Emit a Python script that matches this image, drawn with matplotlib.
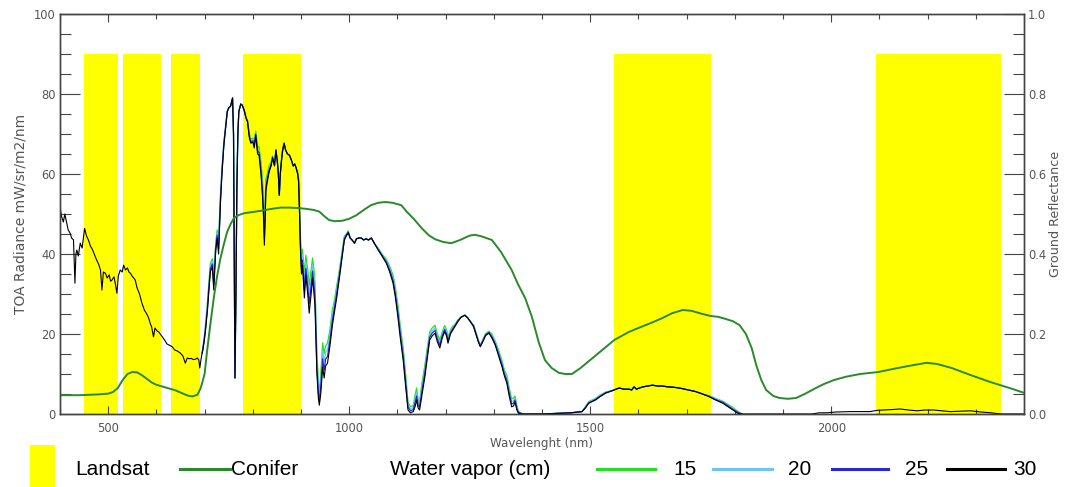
import matplotlib
matplotlib.use("Agg")
import matplotlib.pyplot as plt
from matplotlib.ticker import MultipleLocator, FormatStrFormatter
from matplotlib.patches import Rectangle
from matplotlib.lines import Line2D

# ---------------- data ----------------
# Landsat bands (nm)
band_start = [450, 530, 630, 780, 1550, 2092]
band_end = [520, 610, 690, 900, 1750, 2352]
band_top = 90

# TOA radiance, 30 cm water vapour, visible part
wl_vis = [400, 403, 407, 410, 414, 417, 421, 424, 428, 431,
          433, 435, 438, 442, 446, 451, 455, 459, 463, 467,
          471, 476, 480, 484, 487, 490, 494, 498, 502, 505,
          508, 512, 515, 518, 521, 525, 529, 532, 536, 540,
          543, 546, 550, 553, 556, 560, 565, 570, 575, 580,
          584, 587, 590, 594, 597, 601, 605, 608, 612, 617,
          622, 627, 633, 638, 644, 650, 655, 660, 664, 668,
          672, 677, 681, 685, 688, 690, 693]
rad30_vis = [51.8, 49.5, 48.0, 50.0, 47.7, 46.0, 45.2, 44.0, 43.5, 32.7,
             40.0, 41.0, 39.5, 42.7, 41.5, 46.4, 44.5, 43.5, 42.0, 41.2,
             40.0, 38.5, 37.5, 36.0, 31.0, 35.5, 35.2, 34.0, 34.8, 33.2,
             33.5, 34.3, 32.5, 30.2, 34.5, 36.0, 35.5, 37.2, 36.0, 36.5,
             35.5, 35.2, 34.4, 34.0, 33.5, 31.5, 30.0, 27.7, 26.0, 25.0,
             24.0, 22.7, 21.8, 19.3, 21.5, 20.8, 20.5, 20.0, 19.3, 18.5,
             17.5, 17.2, 16.8, 16.0, 15.7, 15.2, 14.5, 12.7, 14.0, 13.8,
             13.9, 13.6, 13.7, 14.0, 13.5, 11.5, 14.0]

# NIR / SWIR part where the water-vapour series differ
wl_wv = [695, 699, 702, 706, 709, 712, 716, 719, 723, 726,
         729, 733, 736, 740, 744, 747, 750, 754, 758, 760,
         762, 763, 765, 767, 769, 771, 775, 778, 782, 786,
         789, 793, 796, 800, 803, 806, 810, 813, 817, 820,
         822, 824, 826, 827, 830, 834, 838, 841, 845, 848,
         851, 853, 855, 857, 860, 862, 865, 868, 872, 876,
         880, 884, 887, 890, 893, 895, 897, 899, 901, 903,
         905, 907, 910, 914, 917, 921, 924, 927, 929, 933,
         936, 938, 941, 945, 948, 951, 955, 960, 965, 969,
         974, 980, 985, 990, 994, 998, 1002, 1006, 1011, 1015,
         1020, 1025, 1030, 1035, 1040, 1046, 1053, 1060, 1068, 1077,
         1084, 1091, 1096, 1101, 1106, 1112, 1117, 1122, 1127, 1133,
         1137, 1140, 1143, 1146, 1150, 1154, 1157, 1162, 1167, 1172,
         1178, 1183, 1188, 1193, 1198, 1202, 1205, 1210, 1215, 1219,
         1225, 1232, 1240, 1246, 1252, 1258, 1264, 1268, 1272, 1277,
         1283, 1290, 1296, 1303, 1310, 1317, 1322, 1327, 1332, 1337,
         1341, 1344, 1348, 1351, 1360, 1400, 1440, 1460, 1483, 1490,
         1497, 1511, 1520, 1532, 1545, 1560, 1570, 1581, 1586, 1591,
         1596, 1602, 1610, 1620, 1629, 1640, 1650, 1660, 1672, 1685,
         1700, 1719, 1733, 1747, 1760, 1775, 1786, 1796, 1806, 1815]

rad_30_nir = [15.2, 18.0, 21.0, 26.0, 31.0, 35.6, 36.8, 31.0, 40.6, 44.0,
              40.0, 53.0, 60.0, 67.2, 72.0, 75.6, 76.5, 77.0, 79.0, 70.0,
              30.0, 9.0, 30.0, 57.0, 70.0, 75.6, 77.5, 77.2, 76.0, 74.0,
              73.0, 69.0, 67.7, 68.0, 66.5, 69.7, 65.0, 64.7, 60.0, 54.7,
              50.0, 42.2, 50.0, 55.6, 58.0, 60.6, 62.0, 64.0, 62.0, 66.0,
              63.0, 60.0, 54.7, 60.0, 64.0, 66.0, 67.7, 66.0, 65.0, 64.7,
              63.5, 62.0, 62.5, 61.5, 60.0, 58.0, 50.0, 40.6, 35.0, 37.2,
              33.0, 29.0, 34.7, 30.0, 25.2, 30.0, 34.0, 30.0, 27.0, 10.0,
              4.0, 2.2, 5.0, 11.8, 9.0, 12.0, 12.7, 17.0, 22.0, 25.2,
              29.0, 34.3, 39.0, 43.5, 44.5, 45.3, 44.0, 43.5, 42.7, 43.8,
              44.0, 44.0, 43.5, 43.8, 43.5, 44.0, 42.5, 41.0, 39.5, 37.7,
              35.5, 32.7, 29.0, 24.3, 19.0, 13.5, 7.0, 1.0, 0.3, 0.6,
              2.0, 3.5, 1.5, 1.0, 4.0, 7.0, 9.3, 14.0, 18.5, 19.5,
              20.2, 18.0, 16.5, 19.0, 20.6, 19.5, 17.7, 20.0, 21.0, 21.8,
              23.0, 24.2, 24.7, 24.0, 23.0, 21.8, 19.5, 18.0, 16.8, 18.0,
              19.6, 20.2, 19.0, 17.2, 14.5, 11.8, 9.5, 7.7, 4.5, 1.8,
              2.0, 3.0, 1.0, 0.2, 0.0, 0.0, 0.2, 0.3, 0.6, 1.5,
              2.7, 3.5, 4.3, 5.2, 5.8, 6.5, 6.2, 6.2, 6.0, 6.8,
              6.2, 6.5, 6.8, 7.0, 7.2, 7.0, 7.0, 6.8, 6.7, 6.5,
              6.1, 5.6, 5.0, 4.3, 3.5, 2.7, 1.8, 1.0, 0.2, 0.0]

rad_15 = [15.2, 19.0, 22.5, 28.0, 33.0, 37.6, 38.8, 35.0, 42.6, 46.0,
          44.0, 55.0, 61.5, 68.2, 72.5, 75.6, 76.5, 77.0, 79.0, 70.0,
          30.0, 9.0, 30.0, 57.0, 70.0, 75.6, 77.5, 77.2, 76.0, 74.0,
          73.5, 70.0, 68.7, 69.0, 68.0, 70.7, 67.0, 66.7, 63.0, 58.7,
          54.0, 47.2, 54.0, 58.6, 60.0, 62.1, 63.0, 64.5, 62.5, 66.0,
          63.0, 60.0, 54.7, 60.0, 64.0, 66.0, 67.7, 66.0, 65.0, 64.7,
          63.5, 62.0, 62.5, 61.5, 60.5, 59.0, 52.0, 43.6, 39.0, 41.2,
          38.0, 35.0, 39.7, 36.0, 32.2, 36.0, 39.0, 36.0, 33.0, 15.0,
          8.0, 5.2, 10.0, 17.8, 15.0, 17.0, 17.7, 21.0, 26.0, 28.2,
          32.0, 36.3, 40.5, 44.5, 45.0, 45.8, 44.0, 43.5, 42.7, 43.8,
          44.0, 44.0, 43.5, 43.8, 43.5, 44.0, 42.5, 41.5, 40.0, 38.7,
          37.0, 34.7, 31.5, 27.3, 22.0, 16.5, 10.0, 3.0, 1.8, 2.1,
          5.0, 6.5, 3.5, 3.0, 7.0, 10.0, 12.3, 16.5, 20.5, 21.5,
          22.2, 20.0, 18.5, 20.5, 22.1, 21.0, 19.2, 21.0, 22.0, 22.3,
          23.5, 24.2, 24.7, 24.0, 23.0, 22.3, 20.0, 18.5, 17.3, 18.5,
          20.1, 20.7, 20.0, 18.2, 16.0, 13.3, 11.0, 9.7, 6.5, 3.8,
          4.0, 4.5, 2.0, 0.7, 0.0, 0.0, 0.2, 0.3, 0.6, 1.8,
          3.1, 3.9, 4.7, 5.5, 5.8, 6.5, 6.2, 6.2, 6.0, 6.8,
          6.2, 6.5, 6.8, 7.0, 7.2, 7.0, 7.0, 6.8, 6.7, 6.5,
          6.1, 5.6, 5.0, 4.6, 3.9, 3.2, 2.4, 1.6, 0.7, 0.0]

rad_20 = [15.2, 18.7, 22.0, 27.3, 32.3, 36.9, 38.1, 33.7, 41.9, 45.3,
          42.7, 54.3, 61.0, 67.9, 72.3, 75.6, 76.5, 77.0, 79.0, 70.0,
          30.0, 9.0, 30.0, 57.0, 70.0, 75.6, 77.5, 77.2, 76.0, 74.0,
          73.3, 69.7, 68.4, 68.7, 67.5, 70.4, 66.3, 66.0, 62.0, 57.4,
          52.7, 45.5, 52.7, 57.6, 59.3, 61.6, 62.7, 64.3, 62.3, 66.0,
          63.0, 60.0, 54.7, 60.0, 64.0, 66.0, 67.7, 66.0, 65.0, 64.7,
          63.5, 62.0, 62.5, 61.5, 60.3, 58.7, 51.3, 42.6, 37.7, 39.9,
          36.4, 33.0, 38.0, 34.0, 29.9, 34.0, 37.4, 34.0, 31.0, 13.4,
          6.7, 4.2, 8.4, 15.8, 13.0, 15.4, 16.1, 19.7, 24.7, 27.2,
          31.0, 35.6, 40.0, 44.2, 44.8, 45.6, 44.0, 43.5, 42.7, 43.8,
          44.0, 44.0, 43.5, 43.8, 43.5, 44.0, 42.5, 41.3, 39.8, 38.4,
          36.5, 34.0, 30.7, 26.3, 21.0, 15.5, 9.0, 2.3, 1.3, 1.6,
          4.0, 5.5, 2.8, 2.3, 6.0, 9.0, 11.3, 15.7, 19.8, 20.8,
          21.5, 19.3, 17.8, 20.0, 21.6, 20.5, 18.7, 20.7, 21.7, 22.1,
          23.3, 24.2, 24.7, 24.0, 23.0, 22.1, 19.8, 18.3, 17.1, 18.3,
          19.9, 20.5, 19.7, 17.9, 15.5, 12.8, 10.5, 9.0, 5.8, 3.1,
          3.3, 4.0, 1.7, 0.5, 0.0, 0.0, 0.2, 0.3, 0.6, 1.7,
          3.0, 3.8, 4.6, 5.4, 5.8, 6.5, 6.2, 6.2, 6.0, 6.8,
          6.2, 6.5, 6.8, 7.0, 7.2, 7.0, 7.0, 6.8, 6.7, 6.5,
          6.1, 5.6, 5.0, 4.5, 3.8, 3.0, 2.2, 1.4, 0.5, 0.0]

rad_25 = [15.2, 18.3, 21.5, 26.7, 31.7, 36.3, 37.5, 32.3, 41.3, 44.7,
          41.3, 53.7, 60.5, 67.5, 72.2, 75.6, 76.5, 77.0, 79.0, 70.0,
          30.0, 9.0, 30.0, 57.0, 70.0, 75.6, 77.5, 77.2, 76.0, 74.0,
          73.2, 69.3, 68.0, 68.3, 67.0, 70.0, 65.7, 65.4, 61.0, 56.0,
          51.3, 43.9, 51.3, 56.6, 58.7, 61.1, 62.3, 64.2, 62.2, 66.0,
          63.0, 60.0, 54.7, 60.0, 64.0, 66.0, 67.7, 66.0, 65.0, 64.7,
          63.5, 62.0, 62.5, 61.5, 60.2, 58.3, 50.7, 41.6, 36.3, 38.5,
          34.7, 31.0, 36.4, 32.0, 27.5, 32.0, 35.7, 32.0, 29.0, 11.7,
          5.3, 3.2, 6.7, 13.8, 11.0, 13.7, 14.4, 18.3, 23.3, 26.2,
          30.0, 35.0, 39.5, 43.8, 44.7, 45.5, 44.0, 43.5, 42.7, 43.8,
          44.0, 44.0, 43.5, 43.8, 43.5, 44.0, 42.5, 41.2, 39.7, 38.0,
          36.0, 33.4, 29.8, 25.3, 20.0, 14.5, 8.0, 1.7, 0.8, 1.1,
          3.0, 4.5, 2.2, 1.7, 5.0, 8.0, 10.3, 14.8, 19.2, 20.2,
          20.9, 18.7, 17.2, 19.5, 21.1, 20.0, 18.2, 20.3, 21.3, 22.0,
          23.2, 24.2, 24.7, 24.0, 23.0, 22.0, 19.7, 18.2, 17.0, 18.2,
          19.8, 20.4, 19.3, 17.5, 15.0, 12.3, 10.0, 8.4, 5.2, 2.5,
          2.7, 3.5, 1.3, 0.4, 0.0, 0.0, 0.2, 0.3, 0.6, 1.6,
          2.8, 3.6, 4.4, 5.3, 5.8, 6.5, 6.2, 6.2, 6.0, 6.8,
          6.2, 6.5, 6.8, 7.0, 7.2, 7.0, 7.0, 6.8, 6.7, 6.5,
          6.1, 5.6, 5.0, 4.4, 3.6, 2.9, 2.0, 1.2, 0.4, 0.0]

# tail of the 30 cm curve (SWIR-2)
wl_tail = [1830, 1900, 1960, 1975, 1990, 2010, 2039, 2060, 2080, 2095,
           2108, 2125, 2143, 2160, 2178, 2195, 2212, 2230, 2247, 2270,
           2289, 2310, 2331, 2345, 2358, 2400]
rad30_tail = [0.0, 0.0, 0.0, 0.3, 0.3, 0.5, 0.6, 0.6, 0.6, 0.9,
              1.0, 1.1, 1.25, 1.0, 0.8, 1.0, 1.0, 0.8, 0.6, 0.7,
              0.8, 0.5, 0.3, 0.1, 0.0, 0.0]

wl_30 = wl_vis + wl_wv + wl_tail
rad_30 = rad30_vis + rad_30_nir + rad30_tail

# Conifer ground reflectance
wl_conifer = [400, 420, 440, 460, 480, 500, 510, 520, 530, 540,
              550, 560, 570, 580, 590, 600, 620, 640, 655, 665,
              675, 685, 692, 700, 705, 712, 719, 726, 733, 740,
              747, 754, 761, 770, 782, 800, 817, 840, 858, 875,
              893, 910, 927, 938, 948, 958, 970, 985, 1000, 1015,
              1030, 1045, 1060, 1075, 1090, 1108, 1120, 1136, 1150, 1165,
              1178, 1195, 1212, 1230, 1250, 1261, 1275, 1296, 1315, 1337,
              1350, 1365, 1379, 1393, 1406, 1420, 1435, 1448, 1462, 1480,
              1500, 1525, 1550, 1580, 1600, 1625, 1650, 1670, 1692, 1710,
              1733, 1750, 1765, 1780, 1796, 1810, 1823, 1835, 1845, 1855,
              1865, 1880, 1893, 1910, 1927, 1945, 1965, 1985, 2006, 2030,
              2060, 2098, 2130, 2160, 2198, 2220, 2250, 2290, 2330, 2370,
              2400]
refl_conifer = [.047, .047, .047, .048, .049, .051, .055, .065, .085, .100,
                .105, .104, .097, .088, .079, .073, .066, .059, .051, .046,
                .044, .048, .065, .10, .156, .225, .29, .345, .39, .425,
                .456, .475, .49, .497, .502, .505, .508, .513, .516, .516,
                .515, .513, .51, .506, .495, .485, .482, .483, .488, .497,
                .510, .522, .528, .530, .528, .522, .505, .485, .465, .447,
                .437, .430, .427, .435, .446, .448, .444, .435, .405, .36,
                .325, .29, .243, .18, .135, .115, .103, .10, .10, .115,
                .135, .16, .185, .205, .215, .227, .24, .252, .26, .258,
                .25, .245, .243, .238, .232, .222, .20, .165, .12, .085,
                .06, .045, .04, .038, .04, .05, .063, .075, .085, .093,
                .10, .105, .113, .12, .128, .125, .115, .097, .08, .065,
                .053]

wv_labels = ["15", "20", "25", "30"]
wv_colors = ["#22e022", "#6cc4f0", "#2828d8", "#000000"]
conifer_color = "#2a8a2a"
band_color = "#ffff00"

# ---------------- figure ----------------
W, H = 1067, 487
fig = plt.figure(figsize=(W / 100, H / 100), dpi=100)
ax = fig.add_axes([60 / W, 1 - 414 / H, (1024 - 60) / W, 400 / H])
ax2 = ax.twinx()

tick_col = "#444444"
lab_col = "#555555"

ax.bar(band_start, band_top, width=[e - s for s, e in zip(band_start, band_end)],
       align="edge", color=band_color, linewidth=0, zorder=0)

ax.plot(wl_wv, rad_15, color=wv_colors[0], lw=0.9, zorder=2)
ax.plot(wl_wv, rad_20, color=wv_colors[1], lw=0.9, zorder=3)
ax.plot(wl_wv, rad_25, color=wv_colors[2], lw=0.9, zorder=4)
ax.plot(wl_30, rad_30, color=wv_colors[3], lw=0.8, zorder=5)

ax2.plot(wl_conifer, refl_conifer, color=conifer_color, lw=1.4)

ax.set_xlim(400, 2400)
ax.set_ylim(0, 100)
ax2.set_ylim(0, 1.0)

ax.xaxis.set_major_locator(MultipleLocator(500))
ax.xaxis.set_minor_locator(MultipleLocator(100))
ax.yaxis.set_major_locator(MultipleLocator(20))
ax.yaxis.set_minor_locator(MultipleLocator(5))
ax2.yaxis.set_major_locator(MultipleLocator(0.2))
ax2.yaxis.set_minor_locator(MultipleLocator(0.05))
ax2.yaxis.set_major_formatter(FormatStrFormatter("%.1f"))

tls = 8.3
ax.tick_params(axis="x", which="major", direction="in", length=5.5, width=0.8,
               top=True, color=tick_col, labelsize=tls, labelcolor=lab_col, pad=6)
ax.tick_params(axis="x", which="minor", direction="in", length=3.5, width=0.8,
               top=True, color=tick_col)
ax.tick_params(axis="y", which="major", direction="in", length=14.5, width=0.8,
               right=False, color=tick_col, labelsize=tls, labelcolor=lab_col, pad=3)
ax.tick_params(axis="y", which="minor", direction="in", length=8, width=0.8,
               right=False, color=tick_col)
ax2.tick_params(axis="y", which="major", direction="in", length=14.5, width=0.8,
                color=tick_col, labelsize=tls, labelcolor=lab_col, pad=3)
ax2.tick_params(axis="y", which="minor", direction="in", length=8, width=0.8,
                color=tick_col)

for a in (ax, ax2):
    for s in a.spines.values():
        s.set_color("#444444")
        s.set_linewidth(1.0)

ax.set_xlabel("Wavelenght (nm)", family="DejaVu Sans", size=8.6, color=lab_col, labelpad=1)
ax.set_ylabel("TOA Radiance mW/sr/m2/nm", family="DejaVu Sans", size=10, color=lab_col,
              labelpad=5)
ax2.set_ylabel("Ground Reflectance", family="DejaVu Sans", size=9.2, color=lab_col,
               labelpad=2)

# ---------------- legend row ----------------
leg_font = dict(family=["Liberation Sans", "DejaVu Sans"],
                size=15, color="black", va="baseline", ha="left")
yb = (H - 475) / H
yl = (H - 469) / H

fig.patches.append(Rectangle((30 / W, 0), 25 / W, (H - 445) / H,
                             transform=fig.transFigure, color=band_color, lw=0))
fig.text(75 / W, yb, "Landsat", **leg_font)
fig.lines.append(Line2D([180 / W, 230 / W], [yl, yl], transform=fig.transFigure,
                        color=conifer_color, lw=2.2))
fig.text(231 / W, yb, "Conifer", **leg_font)
fig.text(390 / W, yb, "Water vapor (cm)", **leg_font)

line_x = [(597, 655), (713, 772), (832, 888), (947, 1005)]
text_x = [673, 788, 905, 1013]
for (x0, x1), tx, lab, col in zip(line_x, text_x, wv_labels, wv_colors):
    fig.lines.append(Line2D([x0 / W, x1 / W], [yl, yl], transform=fig.transFigure,
                            color=col, lw=2.2))
    fig.text(tx / W, yb, lab, **leg_font)

fig.savefig("out.png", dpi=100)
